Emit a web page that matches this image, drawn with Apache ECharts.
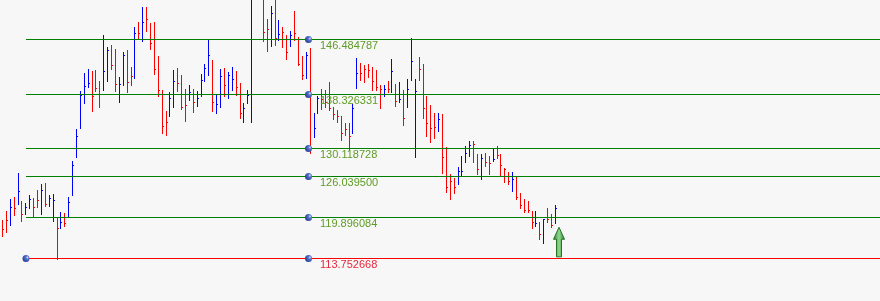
<!DOCTYPE html>
<html><head><meta charset="utf-8">
<script src="https://cdn.jsdelivr.net/npm/echarts@6/dist/echarts.min.js"></script>
<style>html,body{margin:0;padding:0;background:#f7f7f7;}#c{width:880px;height:301px;}</style>
</head><body><div id="c"></div>
<script>
// OHLC-style bars (high / low / close tick), colour by direction
const highs = [119.51,120.85,122.65,122.95,126.53,122.35,122.05,123.25,122.80,123.99,
124.89,125.08,123.25,123.44,119.96,120.70,120.56,122.95,128.33,133.11,
138.83,141.48,142.08,141.78,141.93,140.28,147.20,145.37,145.66,145.07,
140.88,144.62,144.92,142.38,148.35,149.10,151.34,151.34,148.95,149.10,
144.02,138.94,135.80,138.64,141.93,142.23,141.18,139.09,139.69,139.09,
138.79,141.33,142.82,146.41,143.42,138.19,142.03,142.23,141.63,142.38,
141.78,139.98,137.04,138.94,154.50,156.00,156.50,153.20,149.55,151.49,
152.80,149.40,148.35,147.16,147.76,150.75,146.86,144.02,144.62,145.22,
135.46,138.04,139.09,138.94,140.09,136.44,135.95,135.05,133.96,133.96,
136.85,143.68,142.97,142.68,142.82,142.42,141.93,139.69,139.69,140.28,
143.53,139.84,140.18,138.94,140.54,146.67,140.58,143.83,142.82,138.04,
136.70,135.46,135.46,135.35,130.46,126.38,125.83,127.48,129.12,130.61,
131.32,131.32,129.33,129.37,129.57,129.12,130.23,130.61,129.33,127.33,
126.73,126.64,125.98,123.59,122.65,122.35,120.90,120.85,119.25,119.66,
121.26,120.36,121.75];
const lows = [117.16,117.76,118.81,120.30,121.94,119.40,120.45,121.35,119.96,121.50,
120.45,121.65,121.65,119.40,113.75,118.36,118.66,119.96,123.25,128.97,
133.30,137.04,139.43,135.84,138.79,136.40,138.94,140.33,142.08,138.79,
137.19,139.69,138.68,139.64,140.78,146.56,146.31,147.80,145.11,141.37,
138.09,132.56,132.26,135.10,136.44,138.83,136.14,134.35,137.44,135.70,
136.55,138.04,140.28,141.18,135.84,135.55,136.44,138.04,137.79,138.94,
138.19,134.75,134.20,137.04,134.20,153.00,153.20,146.31,144.77,145.56,
145.71,146.41,145.37,143.57,145.56,146.41,142.63,140.63,140.78,129.57,
131.96,135.46,136.05,136.44,135.95,134.56,134.20,131.47,132.21,129.97,
132.47,139.19,140.43,140.18,140.93,138.94,138.94,136.20,138.09,138.68,
138.68,136.59,137.19,133.71,136.35,140.43,128.97,140.43,134.71,132.11,
131.21,131.72,132.86,126.49,123.74,122.69,123.59,124.84,126.23,128.13,
129.12,128.22,126.38,125.64,127.62,126.38,128.37,128.73,126.08,125.23,
124.89,123.89,122.65,121.26,120.75,120.75,118.27,118.66,116.67,116.12,
119.25,118.51,119.11];
const closes = [118.12,119.36,121.41,121.26,123.80,120.36,121.41,122.60,121.41,122.45,
123.95,121.86,122.75,122.45,118.27,119.06,119.02,122.05,127.68,132.02,
138.15,139.49,139.98,138.00,139.19,138.30,141.63,144.87,142.63,139.79,
139.79,144.12,140.13,140.99,147.41,147.41,149.06,149.51,145.92,141.93,
138.79,133.41,134.01,137.70,140.28,139.84,136.35,136.55,138.59,137.10,
137.74,140.39,142.08,144.02,137.00,136.80,140.99,139.54,141.03,140.54,
139.24,135.46,136.20,138.15,152.90,155.00,154.00,147.56,148.01,150.40,
146.61,147.26,147.56,144.47,147.11,147.31,142.78,141.14,144.02,130.30,
133.15,137.64,137.49,137.00,136.20,135.31,134.95,132.47,132.96,131.96,
136.20,141.33,141.33,141.93,141.78,140.18,139.34,139.04,139.04,139.04,
141.67,137.19,137.59,134.71,139.04,143.27,138.68,141.93,136.20,133.86,
133.21,133.36,134.56,128.88,124.40,125.19,124.40,126.83,126.83,129.48,
130.57,130.72,126.98,128.73,128.13,127.88,128.58,129.12,127.62,126.98,
125.23,125.49,122.90,121.60,121.00,120.90,119.11,118.91,117.27,119.51,
119.51,118.66,121.26];
// 1 = up bar, 0 = down bar
const ups = [0,0,1,0,1,0,1,1,0,0,
1,0,1,1,0,1,0,1,1,1,
1,1,1,0,0,0,1,1,0,0,
1,1,0,0,1,0,1,0,0,0,
0,0,0,1,1,0,0,0,1,0,
1,1,1,1,0,1,1,0,1,1,
0,0,1,1,1,1,0,0,0,1,
0,1,0,0,1,0,0,0,1,0,
1,1,0,0,0,0,0,0,0,0,
1,1,0,0,0,0,0,0,1,0,
1,0,1,0,1,1,1,0,0,0,
0,0,1,0,0,0,0,1,1,1,
1,0,0,1,0,0,1,0,0,0,
0,1,0,0,0,0,0,1,0,1,
0,0,1];
// Fibonacci levels
const fibLevels = [146.484787, 138.326331, 130.118728, 126.0395, 119.896084, 113.752668];
const fibLabels = ['146.484787','138.326331','130.118728','126.039500','119.896084','113.752668'];
const fibAnchorBars = [6.03, 78.58];   // bar index where lines start, bar index of label anchors
const signalArrow = [[143, 118.42, 114.0]]; // bar index, tip price, base price

const n = Math.min(highs.length, lows.length, closes.length, ups.length);
const barData = [];
for (let i = 0; i < n; i++) barData.push([i, highs[i], lows[i], closes[i], ups[i]]);
const fibData = fibLevels.map((v, i) => [fibAnchorBars[0], v, fibAnchorBars[1], i]);

function snap(v) { return Math.round(v - 0.5) + 0.5; }

function renderBar(params, api) {
  const i = api.value(0);
  const hi = api.coord([i, api.value(1)]);
  const lo = api.coord([i, api.value(2)]);
  const cl = api.coord([i, api.value(3)]);
  const x = snap(hi[0]);
  const yc = snap(cl[1]);
  const color = api.value(4) ? '#0000ff' : '#ff0000';
  return { type: 'group', children: [
    { type: 'line', shape: { x1: x, y1: Math.round(hi[1]), x2: x, y2: Math.round(lo[1]) + 1 }, style: { stroke: color, lineWidth: 1 } },
    { type: 'line', shape: { x1: x + 0.5, y1: yc, x2: x + 1.5, y2: yc }, style: { stroke: color, lineWidth: 1 } }
  ]};
}

function dot(cx, cy) {
  return { type: 'circle', shape: { cx: cx, cy: cy, r: 3.5 },
    style: { fill: new echarts.graphic.RadialGradient(0.7, 0.35, 0.7, [
      { offset: 0, color: '#e4eeff' }, { offset: 0.3, color: '#5a78cc' }, { offset: 1, color: '#2a4098' }]) } };
}

function renderFib(params, api) {
  const lvl = api.value(1);
  const idx = api.value(3);
  const start = api.coord([api.value(0), lvl]);
  const anchor = api.coord([api.value(2), lvl]);
  const cs = params.coordSys;
  const y = snap(start[1]);
  const isBase = idx === fibLevels.length - 1;
  const lineColor = isBase ? '#ff0000' : '#008000';
  const children = [
    { type: 'line', shape: { x1: Math.round(start[0]), y1: y, x2: cs.x + cs.width, y2: y }, style: { stroke: lineColor, lineWidth: 1 } },
    dot(Math.round(anchor[0]) + 0.5, y),
    { type: 'text', x: Math.round(anchor[0]) + 12, y: y + 1,
      style: { text: fibLabels[idx], fill: isBase ? '#e8283c' : '#5f9c24', font: '11px "Liberation Sans", Arial, sans-serif', verticalAlign: 'top', align: 'left' } }
  ];
  if (isBase) children.push(dot(Math.round(start[0]), y));
  return { type: 'group', children: children };
}

function renderArrow(params, api) {
  const i = api.value(0);
  const tip = api.coord([i, api.value(1)]);
  const base = api.coord([i, api.value(2)]);
  const cx = Math.round(tip[0]);
  const ty = tip[1], by = base[1];
  const hh = 12, hw = 5.5, sw = 2.5;
  const pts = [[cx, ty], [cx + hw, ty + hh], [cx + sw, ty + hh], [cx + sw, by], [cx - sw, by], [cx - sw, ty + hh], [cx - hw, ty + hh]];
  return { type: 'polygon', shape: { points: pts },
    style: { fill: new echarts.graphic.LinearGradient(0, 0, 1, 0, [
      { offset: 0, color: '#2a7e2a' }, { offset: 0.5, color: '#8fd88f' }, { offset: 1, color: '#2a7e2a' }]),
      stroke: '#267326', lineWidth: 1 } };
}

const chart = echarts.init(document.getElementById('c'));
chart.setOption({
  backgroundColor: '#f7f7f7',
  animation: false,
  grid: { left: 0, right: 0, top: 0, bottom: 0 },
  xAxis: { type: 'value', min: -0.642, max: 225.35, show: false },
  yAxis: { type: 'value', min: 107.40, max: 152.389, show: false },
  series: [
    { type: 'custom', renderItem: renderBar, data: barData, clip: true, z: 2 },
    { type: 'custom', renderItem: renderFib, data: fibData, z: 3 },
    { type: 'custom', renderItem: renderArrow, data: signalArrow, z: 4 }
  ]
});
</script>
</body></html>
